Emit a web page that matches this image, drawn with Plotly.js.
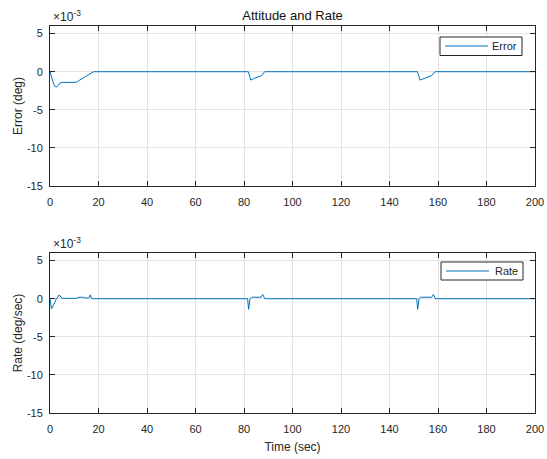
<!DOCTYPE html>
<html>
<head>
<meta charset="utf-8">
<script src="https://cdn.plot.ly/plotly-3.0.1.min.js"></script>
<style>html,body{margin:0;padding:0;background:#fff;}#chart{width:547px;height:459px;}</style>
</head>
<body>
<div id="chart"></div>
<script>
// Attitude error (deg)
const errTime = [0, 0.5, 1, 1.5, 2, 2.5, 3, 3.5, 4, 4.5, 5, 7, 9, 11, 12, 13, 14, 15, 16, 17, 17.5, 18, 81.8, 82.8, 84, 85.5, 87.3, 88.5, 151.5, 152.6, 154, 155.5, 157.4, 158.8, 200];
const errVal = [0, -0.6e-3, -1.2e-3, -1.6e-3, -1.9e-3, -2.0e-3, -1.95e-3, -1.7e-3, -1.5e-3, -1.45e-3, -1.4e-3, -1.4e-3, -1.4e-3, -1.38e-3, -1.15e-3, -0.95e-3, -0.8e-3, -0.62e-3, -0.45e-3, -0.22e-3, -0.08e-3, 0, 0, -1.1e-3, -0.9e-3, -0.75e-3, -0.5e-3, 0, 0, -1.1e-3, -0.9e-3, -0.75e-3, -0.5e-3, 0, 0];
// Rate (deg/sec)
const rateTime = [0, 0.6, 1.5, 2.5, 3.8, 4.4, 5.0, 6, 11, 12, 13.5, 14.5, 16, 16.6, 17.2, 18, 81.5, 81.9, 82.5, 83.2, 87.0, 87.7, 88.6, 151.2, 151.6, 152.2, 152.8, 157.4, 158.1, 159, 200];
const rateVal = [0, -1.35e-3, -0.8e-3, -0.1e-3, 0.5e-3, 0.25e-3, 0.05e-3, 0.05e-3, 0.05e-3, 0.2e-3, 0.2e-3, 0.1e-3, 0.1e-3, 0.5e-3, 0, 0, 0, -1.4e-3, 0, 0.2e-3, 0.2e-3, 0.55e-3, 0, 0, -1.4e-3, 0, 0.2e-3, 0.2e-3, 0.55e-3, 0, 0];
// Series names
const seriesNames = ['Error', 'Rate'];
// Axes ticks
const xTicks = [0, 20, 40, 60, 80, 100, 120, 140, 160, 180, 200];
const yTicks = [-0.015, -0.010, -0.005, 0, 0.005];
const yTickText = ['-15', '-10', '-5', '0', '5'];

const ink = '#262626';
const blue = '#0072BD';
const gridC = '#e3e3e3';
const fam = 'Liberation Sans, Arial, sans-serif';
const font = {family: fam, size: 11, color: ink};

function xax(anchor, showTitle) {
  const a = {
    range: [0, 200], tickvals: xTicks, ticktext: xTicks.map(String),
    ticks: 'inside', ticklen: 5, tickcolor: ink, showline: true, linecolor: ink, linewidth: 1,
    mirror: 'ticks', showgrid: true, gridcolor: gridC, gridwidth: 1, zeroline: false,
    tickfont: font, anchor: anchor, ticklabelstandoff: 6
  };
  if (showTitle) a.title = {text: 'Time (sec)', font: {family: fam, size: 12, color: ink}, standoff: 8};
  return a;
}
function yax(anchor, domain, label) {
  return {
    range: [-0.015, 0.006], tickvals: yTicks, ticktext: yTickText, domain: domain,
    ticks: 'inside', ticklen: 5, tickcolor: ink, showline: true, linecolor: ink, linewidth: 1,
    mirror: 'ticks', showgrid: true, gridcolor: gridC, gridwidth: 1, zeroline: false,
    tickfont: font, anchor: anchor, ticklabelstandoff: 4,
    title: {text: label, font: {family: fam, size: 12, color: ink}, standoff: 1}
  };
}

const data = [
  {x: errTime, y: errVal, type: 'scatter', mode: 'lines', name: seriesNames[0],
   line: {color: blue, width: 1}, xaxis: 'x', yaxis: 'y', showlegend: false},
  {x: rateTime, y: rateVal, type: 'scatter', mode: 'lines', name: seriesNames[1],
   line: {color: blue, width: 1}, xaxis: 'x2', yaxis: 'y2', showlegend: false}
];

// legend boxes (MATLAB style): box + sample line + label, placed in paper coordinates
const topDomain = [0.5866, 1];
const botDomain = [0, 0.4134];
const plotH = 387, plotW = 485;
const px = v => (v - 50) / plotW;
const py = v => (413 - v) / plotH;
function legendItems(name, box, lineX, lineY, textRight) {
  return {
    rect: {type: 'rect', xref: 'paper', yref: 'paper', layer: 'above',
           x0: px(box[0]), x1: px(box[1]), y0: py(box[2]), y1: py(box[3]),
           fillcolor: '#ffffff', line: {color: ink, width: 1}},
    line: {type: 'line', xref: 'paper', yref: 'paper', layer: 'above',
           x0: px(lineX[0]), x1: px(lineX[1]), y0: py(lineY), y1: py(lineY),
           line: {color: blue, width: 1}},
    ann: {text: name, xref: 'paper', yref: 'paper', x: px(textRight), y: py(lineY),
          xanchor: 'right', yanchor: 'middle', showarrow: false, font: font}
  };
}
const lg1 = legendItems(seriesNames[0], [440, 522, 37, 55.5], [445, 488], 46, 519);
const lg2 = legendItems(seriesNames[1], [441, 523, 262, 280], [446, 489], 271, 520);

const layout = {
  width: 547, height: 459,
  margin: {l: 50, r: 12, t: 26, b: 46},
  paper_bgcolor: '#ffffff', plot_bgcolor: '#ffffff',
  font: font,
  showlegend: false,
  title: {text: 'Attitude and Rate', font: {family: fam, size: 13, color: '#111'},
          x: 0.5, xref: 'paper', xanchor: 'center', y: 1 - 15/459, yanchor: 'middle'},
  xaxis: xax('y', false),
  yaxis: yax('x', topDomain, 'Error (deg)'),
  xaxis2: xax('y2', true),
  yaxis2: yax('x2', botDomain, 'Rate (deg/sec)'),
  shapes: [lg1.rect, lg1.line, lg2.rect, lg2.line],
  annotations: [
    lg1.ann, lg2.ann,
    {text: '×10<sup>-3</sup>', xref: 'paper', yref: 'paper', x: 0, y: topDomain[1], xanchor: 'left', yanchor: 'bottom',
     showarrow: false, font: {family: fam, size: 12, color: ink}, xshift: 1},
    {text: '×10<sup>-3</sup>', xref: 'paper', yref: 'paper', x: 0, y: botDomain[1], xanchor: 'left', yanchor: 'bottom',
     showarrow: false, font: {family: fam, size: 12, color: ink}, xshift: 1}
  ]
};

Plotly.newPlot('chart', data, layout, {displayModeBar: false, staticPlot: true});
</script>
</body>
</html>
